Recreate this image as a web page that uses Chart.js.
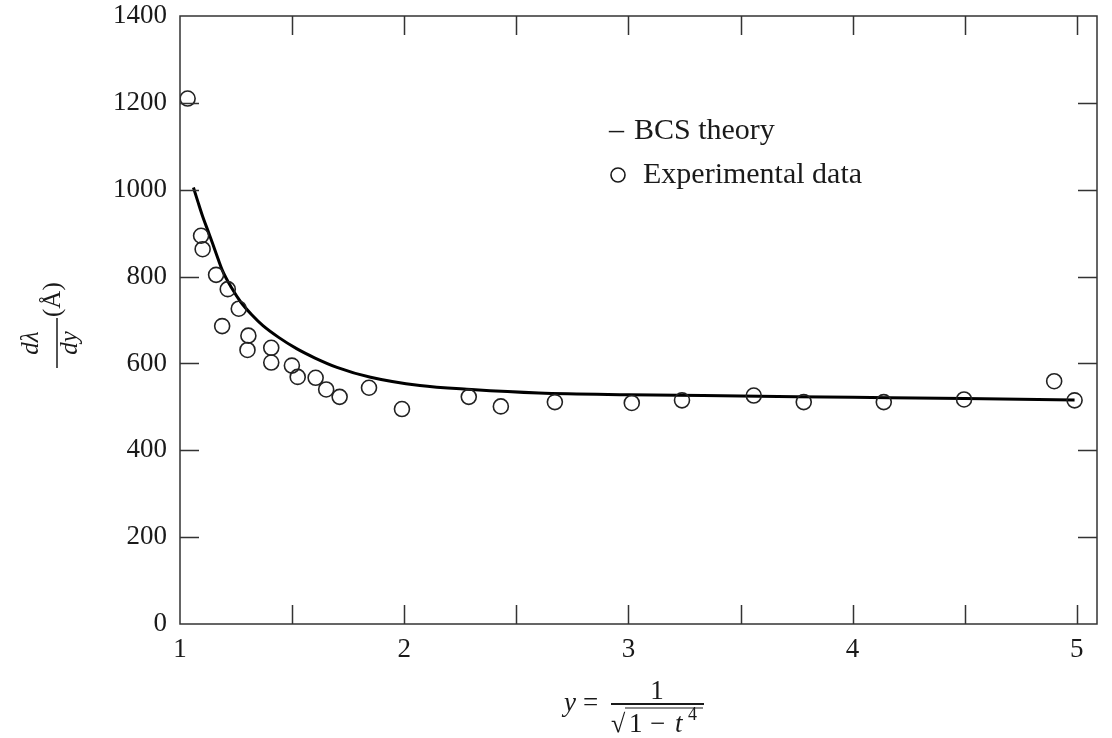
<!DOCTYPE html>
<html>
<head>
<meta charset="utf-8">
<script src="https://cdn.jsdelivr.net/npm/chart.js@4.4.0/dist/chart.umd.min.js"></script>
<style>
  html, body { margin: 0; padding: 0; background: #ffffff; }
  #wrap { width: 1112px; height: 738px; }
</style>
</head>
<body>
<div id="wrap"><canvas id="c" width="1112" height="738"></canvas></div>
<script>
// ---- data ----
const expX = [1.034, 1.094, 1.101, 1.161, 1.188, 1.213, 1.262, 1.301, 1.305, 1.407, 1.407, 1.499, 1.525, 1.605, 1.652, 1.712, 1.843, 1.990, 2.288, 2.431, 2.672, 3.015, 3.239, 3.559, 3.782, 4.139, 4.497, 4.899, 4.990];
const expY = [1210, 894, 863, 804, 686, 771, 726, 631, 664, 636, 602, 595, 569, 567, 540, 523, 544, 495, 523, 501, 511, 509, 515, 526, 511, 511, 517, 559, 515];

const bcsX = [1.06, 1.08, 1.10, 1.13, 1.16, 1.19, 1.23, 1.27, 1.32, 1.37, 1.44, 1.52, 1.60, 1.70, 1.85, 2.07, 2.30, 2.60, 3.00, 3.50, 4.00, 4.50, 4.99];
const bcsY = [1005, 972, 940, 898, 855, 813, 774, 742, 712, 687, 660, 634, 613, 591, 568, 549, 540, 532, 528, 525, 522, 519, 516];

const xTickLabels = [1, 2, 3, 4, 5];
const yTickLabels = [0, 200, 400, 600, 800, 1000, 1200, 1400];
const xMinorStep = 0.5;
const yStep = 200;
const seriesNames = ['BCS theory', 'Experimental data'];

const SERIF = '"Liberation Serif", "Times New Roman", serif';
const INK = '#1a1a1a';

// inward ticks + frame
const framePlugin = {
  id: 'frame',
  afterDraw(chart) {
    const { ctx, chartArea: a, scales } = chart;
    const xs = scales.x, ys = scales.y;
    const L = 19;
    ctx.save();
    ctx.strokeStyle = '#333';
    ctx.lineWidth = 1.5;
    ctx.strokeRect(a.left, a.top, a.right - a.left, a.bottom - a.top);
    ctx.beginPath();
    for (let v = xs.min + xMinorStep; v < xs.max - 1e-6; v += xMinorStep) {
      const px = Math.round(xs.getPixelForValue(v)) + 0.5;
      ctx.moveTo(px, a.bottom); ctx.lineTo(px, a.bottom - L);
      ctx.moveTo(px, a.top); ctx.lineTo(px, a.top + L);
    }
    for (let v = ys.min + yStep; v < ys.max - 1e-6; v += yStep) {
      const py = Math.round(ys.getPixelForValue(v)) + 0.5;
      ctx.moveTo(a.left, py); ctx.lineTo(a.left + L, py);
      ctx.moveTo(a.right, py); ctx.lineTo(a.right - L, py);
    }
    ctx.stroke();
    ctx.restore();
  }
};

// axis titles and legend (text)
const textPlugin = {
  id: 'texts',
  afterDraw(chart) {
    const ctx = chart.ctx;
    ctx.save();
    ctx.fillStyle = INK;
    ctx.strokeStyle = INK;
    ctx.textBaseline = 'alphabetic';

    // ---- legend ----
    ctx.font = '30px ' + SERIF;
    ctx.textAlign = 'left';
    ctx.fillText('\u2013', 609, 139);
    ctx.fillText(seriesNames[0], 634, 139);
    ctx.beginPath();
    ctx.lineWidth = 1.6;
    ctx.arc(618, 175, 7, 0, Math.PI * 2);
    ctx.stroke();
    ctx.fillText(seriesNames[1], 643, 183);

    // ---- x axis title: y = 1 / sqrt(1 - t^4) ----
    ctx.font = 'italic 27px ' + SERIF;
    ctx.fillText('y', 564, 711);
    ctx.font = '27px ' + SERIF;
    ctx.fillText('=', 583, 711);
    ctx.lineWidth = 2;
    ctx.beginPath();
    ctx.moveTo(611, 704); ctx.lineTo(704, 704);
    ctx.stroke();
    ctx.textAlign = 'center';
    ctx.fillText('1', 657, 699);
    ctx.textAlign = 'left';
    ctx.font = '26px ' + SERIF;
    ctx.fillText('\u221A', 611, 732);
    ctx.lineWidth = 1.2;
    ctx.beginPath();
    ctx.moveTo(625, 708); ctx.lineTo(703, 708);
    ctx.stroke();
    ctx.font = '27px ' + SERIF;
    ctx.fillText('1', 629, 732);
    ctx.fillText('\u2212', 650, 732);
    ctx.font = 'italic 27px ' + SERIF;
    ctx.fillText('t', 675, 732);
    ctx.font = '18px ' + SERIF;
    ctx.fillText('4', 688, 720);

    // ---- y axis title: dλ/dy (Å), rotated ----
    ctx.translate(57, 343);
    ctx.rotate(-Math.PI / 2);
    ctx.lineWidth = 1.5;
    ctx.beginPath();
    ctx.moveTo(-25, 0); ctx.lineTo(25, 0);
    ctx.stroke();
    ctx.font = 'italic 25px ' + SERIF;
    ctx.textAlign = 'center';
    ctx.fillText('d\u03BB', 0, -19);
    ctx.fillText('dy', 0, 20);
    ctx.font = '25px ' + SERIF;
    ctx.textAlign = 'left';
    ctx.textBaseline = 'middle';
    ctx.fillText('(\u00C5)', 26, -4);
    ctx.restore();
  }
};

const bcsData = bcsX.map((x, i) => ({ x, y: bcsY[i] }));
const expData = expX.map((x, i) => ({ x, y: expY[i] }));

new Chart(document.getElementById('c'), {
  type: 'scatter',
  data: {
    datasets: [
      {
        label: seriesNames[0],
        data: bcsData,
        showLine: true,
        borderColor: '#000',
        borderWidth: 3,
        pointRadius: 0,
        cubicInterpolationMode: 'monotone',
        order: 2
      },
      {
        label: seriesNames[1],
        data: expData,
        pointStyle: 'circle',
        pointRadius: 7.5,
        borderColor: '#222',
        borderWidth: 1.6,
        backgroundColor: 'rgba(0,0,0,0)',
        order: 1
      }
    ]
  },
  options: {
    responsive: false,
    animation: false,
    layout: { padding: { left: 0, top: 16, right: 15, bottom: 0 } },
    plugins: { legend: { display: false }, tooltip: { enabled: false } },
    scales: {
      x: {
        type: 'linear',
        min: 1,
        max: 5.09,
        grid: { display: false, drawTicks: false },
        border: { display: false },
        afterFit: s => { s.height = 114; s.paddingLeft = 0; s.paddingRight = 0; },
        ticks: {
          stepSize: 1,
          includeBounds: false,
          autoSkip: false,
          maxRotation: 0,
          padding: 10,
          color: INK,
          font: { family: SERIF, size: 27 },
          callback: v => xTickLabels.includes(v) ? String(v) : ''
        }
      },
      y: {
        type: 'linear',
        min: 0,
        max: 1400,
        grid: { display: false, drawTicks: false },
        border: { display: false },
        afterFit: s => { s.width = 180; s.paddingTop = 0; s.paddingBottom = 0; },
        ticks: {
          stepSize: yStep,
          autoSkip: false,
          padding: 13,
          color: INK,
          font: { family: SERIF, size: 27 },
          callback: v => yTickLabels.includes(v) ? String(v) : ''
        }
      }
    }
  },
  plugins: [framePlugin, textPlugin]
});
</script>
</body>
</html>
